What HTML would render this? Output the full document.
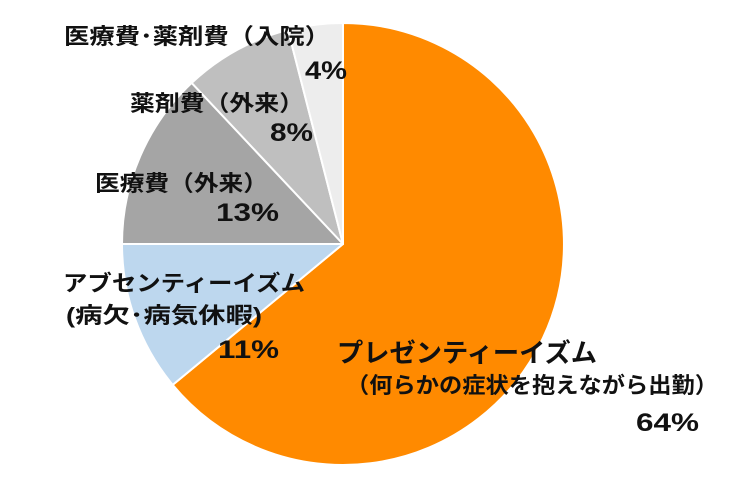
<!DOCTYPE html>
<html><head><meta charset="utf-8"><style>
body{margin:0;background:#fff;}
svg text{font-family:"Liberation Sans","Noto Sans CJK JP",sans-serif;font-weight:bold;fill:#111;}
</style></head><body>
<svg width="740" height="479" xmlns="http://www.w3.org/2000/svg">
<g stroke="#fff" stroke-width="2" stroke-linejoin="round">
<path d="M343,244 L343,23 A221,221 0 1 1 172.7,384.9 Z" fill="#FF8A00"/>
<path d="M343,244 L172.7,384.9 A221,221 0 0 1 122,244 Z" fill="#BDD7EE"/>
<path d="M343,244 L122,244 A221,221 0 0 1 191.7,82.9 Z" fill="#A5A5A5"/>
<path d="M343,244 L191.7,82.9 A221,221 0 0 1 288,29.9 Z" fill="#BFBFBF"/>
<path d="M343,244 L288,29.9 A221,221 0 0 1 343,23 Z" fill="#EDEDED"/>
</g>
<g font-size="22">
<text x="64" y="44" textLength="266" lengthAdjust="spacingAndGlyphs">医療費･薬剤費（入院）</text>
<text x="305" y="79" font-size="25" textLength="42" lengthAdjust="spacingAndGlyphs">4%</text>
<text x="130" y="111" textLength="174" lengthAdjust="spacingAndGlyphs">薬剤費（外来）</text>
<text x="270" y="141" font-size="25" textLength="43" lengthAdjust="spacingAndGlyphs">8%</text>
<text x="95" y="191" textLength="173" lengthAdjust="spacingAndGlyphs">医療費（外来）</text>
<text x="216" y="221" font-size="25" textLength="63" lengthAdjust="spacingAndGlyphs">13%</text>
<text x="63" y="291" textLength="242" lengthAdjust="spacingAndGlyphs">アブセンティーイズム</text>
<text x="66" y="323" textLength="196" lengthAdjust="spacingAndGlyphs">(病欠･病気休暇)</text>
<text x="218" y="358" font-size="25" textLength="61" lengthAdjust="spacingAndGlyphs">11%</text>
<text x="337" y="362" font-size="26" textLength="260" lengthAdjust="spacingAndGlyphs">プレゼンティーイズム</text>
<text x="346" y="393" textLength="372" lengthAdjust="spacingAndGlyphs">（何らかの症状を抱えながら出勤）</text>
<text x="636" y="431" font-size="25" textLength="63" lengthAdjust="spacingAndGlyphs">64%</text>
</g>
</svg>
</body></html>
